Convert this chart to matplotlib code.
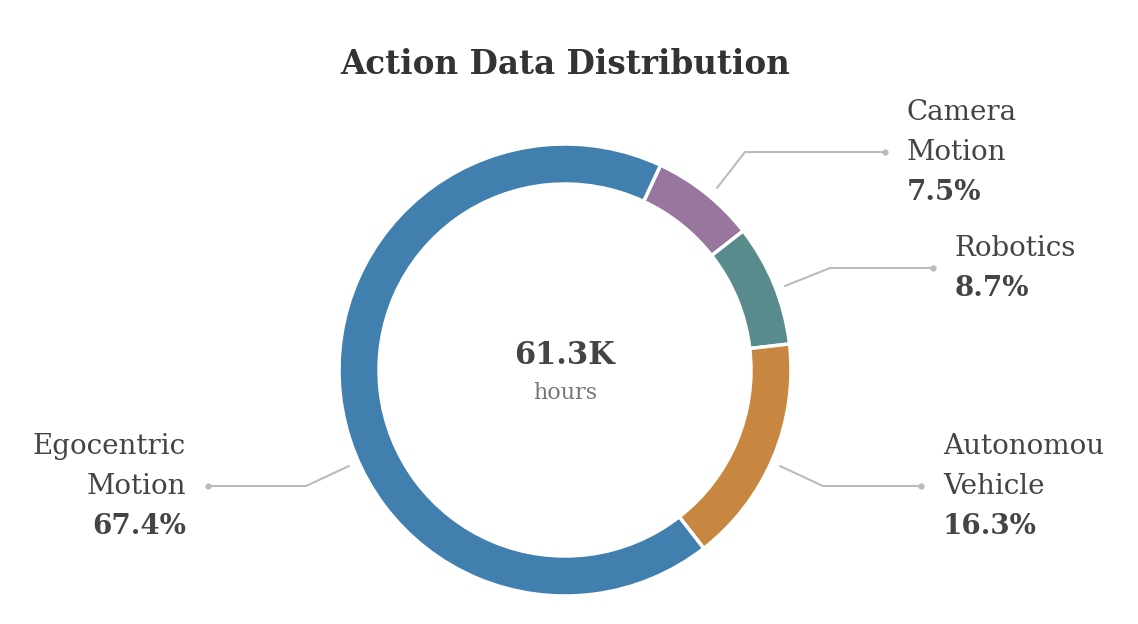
import matplotlib
matplotlib.use("Agg")
import matplotlib.pyplot as plt
import numpy as np
from matplotlib.transforms import Bbox

# ---- data ----
categories = ["Camera\nMotion", "Robotics", "Autonomous\nVehicle", "Egocentric\nMotion"]
shares = [7.5, 8.7, 16.3, 67.4]
colors = ["#98769E", "#588B8B", "#C88741", "#417FAE"]
total_label = "61.3K"
unit_label = "hours"
title = "Action Data Distribution"

W, H = 1138, 624
fig = plt.figure(figsize=(W / 100, H / 100), dpi=100)
ax = fig.add_axes([0, 0, 1, 1])

def py(y):
    return H - y

FONT = "DejaVu Serif"
TXT = "#444444"
cx, cy, R, ring = 565, 370, 226, 40

wedges, _ = ax.pie(shares, colors=colors, startangle=65, counterclock=False,
                   radius=R, center=(cx, py(cy)),
                   wedgeprops=dict(width=ring, edgecolor="white", linewidth=2.5))
ax.set_xlim(0, W)
ax.set_ylim(0, H)
ax.set_aspect("equal")
ax.axis("off")

fig.text(cx / W, 1 - 65 / H, title, ha="center", va="center", fontsize=23.5,
         fontweight="bold", family=FONT, color="#333333")
ax.text(cx, py(356), total_label, ha="center", va="center", fontsize=22,
        fontweight="bold", family=FONT, color=TXT)
ax.text(cx, py(393), unit_label, ha="center", va="center", fontsize=16,
        family=FONT, color="#777777")

# leader layout: (start, elbow, end) in pixel coords, text side
leaders = [
    ((717, 188), (745, 152), (885, 152), "left"),
    ((785, 286), (830, 268), (933, 268), "left"),
    ((780, 466), (823, 486), (921, 486), "left"),
    ((349, 466), (306, 486), (208, 486), "right"),
]
LH = 40  # line height in px
for cat, val, (s, e, t, side) in zip(categories, shares, leaders):
    xs = [s[0], e[0], t[0]]
    ys = [py(s[1]), py(e[1]), py(t[1])]
    ax.plot(xs, ys, color="#BBBBBB", lw=1.5, solid_capstyle="round")
    ax.plot([t[0]], [py(t[1])], "o", color="#BBBBBB", ms=3.5)
    lines = cat.split("\n")
    n = len(lines) + 1
    y0 = t[1] - (n - 1) * LH / 2
    if side == "left":
        tx, ha = t[0] + 22, "left"
    else:
        tx, ha = t[0] - 22, "right"
    for i, ln in enumerate(lines):
        txt = ax.text(tx, py(y0 + i * LH), ln, ha=ha, va="center", fontsize=20,
                      family=FONT, color=TXT)
        if side == "left":
            txt.set_clip_box(Bbox([[0, 0], [1105, H]]))
            txt.set_clip_on(True)
    ax.text(tx, py(y0 + len(lines) * LH), f"{val}%", ha=ha, va="center", fontsize=20,
            fontweight="bold", family=FONT, color=TXT)

fig.savefig("out.png", dpi=100, facecolor="white")
